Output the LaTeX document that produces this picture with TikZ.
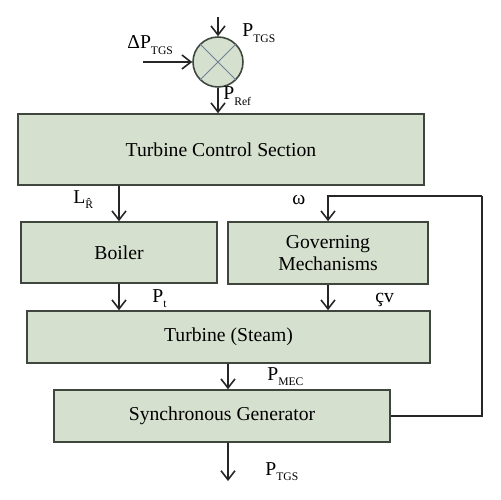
\documentclass[tikz,border=0pt]{standalone}
\usepackage{fontspec}
\setmainfont{Liberation Serif}
\usetikzlibrary{arrows.meta}

\definecolor{boxfill}{RGB}{214,224,207}
\definecolor{boxline}{RGB}{62,70,62}
\definecolor{crossline}{RGB}{110,128,150}

\newcommand{\lsub}[1]{\raisebox{-3.2pt}{\fontsize{6.6}{7}\selectfont #1}}

\tikzset{
  blockbox/.style={draw=boxline, fill=boxfill, line width=0.9pt, align=center, font=\fontsize{11.2}{12.8}\selectfont},
  arr/.style={draw=black!85, line width=0.9pt, -{Straight Barb[length=1.8mm, width=2.8mm]}},
  fbline/.style={draw=black!85, line width=0.9pt},
  lbl/.style={inner sep=0pt, anchor=base west, font=\fontsize{11.2}{12.8}\selectfont}
}

\begin{document}
\begin{tikzpicture}[x=0.02cm, y=-0.02cm]
\useasboundingbox (0,0) rectangle (500,500);

\node[blockbox, circle, minimum size=1.0cm, inner sep=0pt] (sum) at (218,62) {}; % summing point
\draw[crossline, line width=0.6pt] (sum.north west) -- (sum.south east);
\draw[crossline, line width=0.6pt] (sum.north east) -- (sum.south west);

\node[blockbox, minimum width=8.12cm, minimum height=1.42cm] (tcs) at (221,149.5) {Turbine Control Section};
\node[blockbox, minimum width=3.92cm, minimum height=1.22cm] (boiler) at (119,252.5) {Boiler};
\node[blockbox, minimum width=4.0cm, minimum height=1.24cm] (gov) at (328,253) {Governing\\Mechanisms};
\node[blockbox, minimum width=8.06cm, minimum height=1.04cm] (turbine) at (228.5,337) {Turbine (Steam)};
\node[blockbox, minimum width=6.72cm, minimum height=1.04cm] (sg) at (222,416) {Synchronous Generator};

\coordinate (ptgsin) at (218,17);
\coordinate (dpin) at (143,62);
\coordinate (pout) at (228,481);
\coordinate (fbtop) at (482,196);

\draw[arr] (ptgsin) -- (sum.north);
\draw[arr] (dpin) -- (sum.west);
\draw[arr] (sum.south) -- (sum.south |- tcs.north);
\draw[arr] (tcs.south -| boiler.north) -- (boiler.north);
\draw[arr] (boiler.south) -- (boiler.south |- turbine.north);
\draw[arr] (gov.south) -- (gov.south |- turbine.north);
\draw[arr] (turbine.south -| pout) -- (pout |- sg.north);
\draw[arr] (pout |- sg.south) -- (pout);
\draw[fbline] (sg.east) -| (fbtop); % feedback
\draw[arr] (fbtop) -| (gov.north);

\node[lbl] (ldp) at (127,49) {ΔP\lsub{TGS}};
\node[lbl] (lptgs) at (242,37) {P\lsub{TGS}};
\node[lbl] (lpref) at (223,100) {P\lsub{Ref}};
\node[lbl] (llr) at (73,203) {L\lsub{\^{R}}};
\node[lbl] (lomega) at (292,204) {ω};
\node[lbl] (lpt) at (152,302) {P\lsub{t}};
\node[lbl] (lcv) at (375,302) {çv};
\node[lbl] (lpmec) at (267,380) {P\lsub{MEC}};
\node[lbl] (lpout) at (265,475) {P\lsub{TGS}};
\end{tikzpicture}
\end{document}
